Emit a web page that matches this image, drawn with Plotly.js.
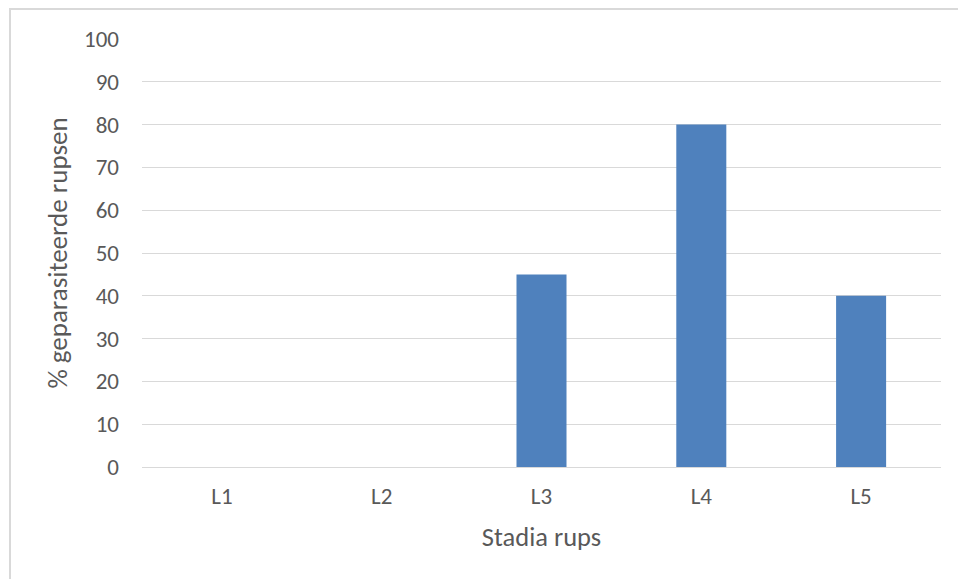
<!DOCTYPE html>
<html>
<head>
<meta charset="utf-8">
<script src="https://cdn.plot.ly/plotly-3.0.1.min.js"></script>
<style>
  html, body { margin: 0; padding: 0; background: #fff; }
  #chart { width: 958px; height: 579px; }
</style>
</head>
<body>
<div id="chart"></div>
<script>
// Larval stages and share of parasitised caterpillars (%)
const stages = ["L1", "L2", "L3", "L4", "L5"];
const parasitised = [0, 0, 45, 80, 40];
const yTicks = [0, 10, 20, 30, 40, 50, 60, 70, 80, 90, 100];

const fontFamily = "Carlito, Calibri, 'Liberation Sans', Arial, sans-serif";
const textColor = "#595959";
const gridColor = "#d9d9d9";

const trace = {
  type: "bar",
  x: stages,
  y: parasitised,
  marker: { color: "#4f81bd" },
  hoverinfo: "x+y"
};

const layout = {
  width: 958,
  height: 579,
  margin: { l: 142, r: 17, t: 39, b: 112 },
  paper_bgcolor: "#ffffff",
  plot_bgcolor: "#ffffff",
  bargap: 0.687,
  showlegend: false,
  font: { family: fontFamily, size: 23, color: textColor },
  xaxis: {
    type: "category",
    showgrid: false,
    zeroline: false,
    showline: false,
    ticks: "",
    ticklabelstandoff: 13,
    tickfont: { family: fontFamily, size: 23, color: textColor },
    title: { text: "Stadia rups", font: { family: fontFamily, size: 26.5, color: textColor }, standoff: 18 }
  },
  yaxis: {
    range: [0, 100],
    tickvals: yTicks,
    showgrid: true,
    gridcolor: gridColor,
    gridwidth: 1,
    zeroline: true,
    zerolinecolor: gridColor,
    zerolinewidth: 1,
    showline: false,
    ticks: "",
    ticklabelstandoff: 22,
    tickfont: { family: fontFamily, size: 23, color: textColor },
    title: { text: "% geparasiteerde rupsen", font: { family: fontFamily, size: 27, color: textColor }, standoff: 8 }
  },
  shapes: [{
    type: "rect",
    xref: "paper", yref: "paper",
    x0: -0.1652, x1: 1.05,
    y0: -0.4, y1: 1.0701,
    line: { color: gridColor, width: 2 },
    fillcolor: "rgba(0,0,0,0)",
    layer: "below"
  }]
};

Plotly.newPlot("chart", [trace], layout, { displayModeBar: false, staticPlot: true });
</script>
</body>
</html>
